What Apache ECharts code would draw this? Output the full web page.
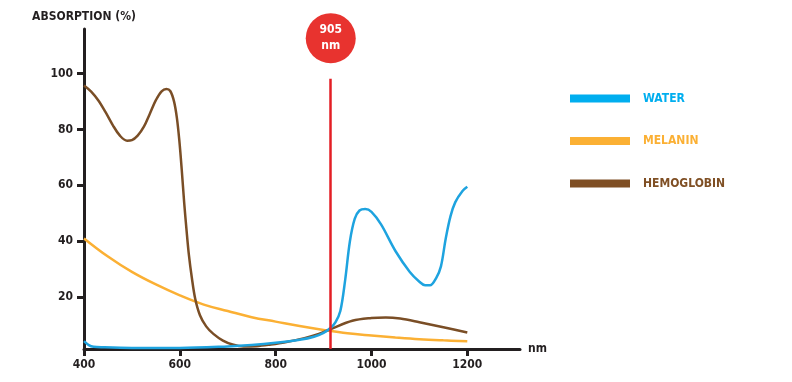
<!DOCTYPE html>
<html>
<head>
<meta charset="utf-8">
<script src="https://cdn.jsdelivr.net/npm/echarts@6/dist/echarts.min.js"></script>
<style>html,body{margin:0;padding:0;background:#fff}#c{width:792px;height:382px}</style>
</head>
<body>
<div id="c"></div>
<script>
var xTicks = [400, 600, 800, 1000, 1200];
var yTicks = [20, 40, 60, 80, 100];
var seriesNames = ['WATER', 'MELANIN', 'HEMOGLOBIN'];
var markerLabel = ['905', 'nm'];
var markerNm = 915;

var water = [
  [400,4.2],[410,2.8],[420,2.2],[440,2.0],[500,1.8],[600,1.8],[700,2.3],[750,2.8],[800,3.6],
  [850,4.7],[880,5.8],[900,7.2],[915,9],[925,11],[935,15],[945,26],[955,40],[965,48],[975,51],
  [987,51.5],[1000,50.5],[1020,46],[1050,36.5],[1080,29],[1100,25.5],[1112,24.2],[1122,24.2],
  [1135,26.8],[1145,31],[1155,41],[1165,49],[1175,54],[1190,58],[1200,59.5]
];
var melanin = [
  [400,41],[450,34.5],[500,29],[550,24.5],[600,20.6],[650,17.3],[700,15],[750,12.8],[800,11.2],
  [850,9.6],[900,8.2],[950,7],[1000,6.2],[1050,5.5],[1100,4.9],[1150,4.5],[1200,4.2]
];
var hemoglobin = [
  [400,95.8],[415,93.6],[430,90.4],[445,86.2],[460,81.6],[475,77.8],[490,76.0],[500,76.2],
  [512,77.8],[525,81],[537,85.5],[550,90.5],[562,93.7],[572,94.5],[580,93.8],[588,90],
  [594,84],[599,76],[604,65.6],[609,54],[614,44],[619,35],[625,27],[632,19.5],[642,13.5],
  [655,9.5],[670,6.8],[690,4.4],[710,3],[733,2.3],[760,2.4],[790,3],[820,3.8],[860,5.3],
  [890,6.8],[915,8.5],[960,11.5],[1000,12.5],[1030,12.7],[1060,12.3],[1100,11],[1150,9.2],[1200,7.3]
];
var colors = ['#1ea3df', '#fbb034', '#7a4e26'];
var legendColors = ['#00aeef', '#fbb034', '#7f4f24'];
var axisColor = '#231f20';
var font = 'DejaVu Sans Condensed';

var chart = echarts.init(document.getElementById('c'));
chart.setOption({
  animation: false,
  grid: {left: 84, right: 272, top: 29, bottom: 33, containLabel: false},
  legend: {
    orient: 'vertical', left: 565, top: 87.5, itemWidth: 60, itemHeight: 8, itemGap: 30.5,
    icon: 'rect', selectedMode: false,
    textStyle: {fontFamily: font, fontWeight: 'bold', fontSize: 12, padding: [0,0,0,8]},
    data: seriesNames.map(function(n, i){ return {name: n, itemStyle: {color: legendColors[i]}, textStyle: {color: legendColors[i]}}; })
  },
  xAxis: {
    type: 'value', min: 400, max: 1310,
    name: 'nm', nameLocation: 'end', nameGap: 8,
    nameTextStyle: {fontFamily: font, fontWeight: 'bold', fontSize: 12, color: axisColor, verticalAlign: 'middle', padding: [6,0,0,0]},
    axisLine: {show: true, lineStyle: {color: axisColor, width: 3}},
    axisTick: {show: true, length: 7, lineStyle: {color: axisColor, width: 3}, customValues: xTicks},
    axisLabel: {margin: 10, fontFamily: font, fontWeight: 'bold', fontSize: 12, color: axisColor, customValues: xTicks,
                formatter: function(v){ return String(v); }},
    splitLine: {show: false}
  },
  yAxis: {
    type: 'value', min: 1.4, max: 116,
    name: 'ABSORPTION (%)', nameLocation: 'end', nameGap: 6,
    nameTextStyle: {fontFamily: font, fontWeight: 'bold', fontSize: 12, color: axisColor, align: 'center'},
    axisLine: {show: true, lineStyle: {color: axisColor, width: 3}},
    axisTick: {show: true, length: 7, lineStyle: {color: axisColor, width: 3}, customValues: yTicks},
    axisLabel: {margin: 11, fontFamily: font, fontWeight: 'bold', fontSize: 12, color: axisColor, customValues: yTicks},
    splitLine: {show: false}
  },
  series: [
    {name: seriesNames[0], type: 'line', data: water, smooth: 0.35, showSymbol: false, z: 3,
     lineStyle: {color: colors[0], width: 2.5}, itemStyle: {color: colors[0]}},
    {name: seriesNames[1], type: 'line', data: melanin, smooth: 0.4, showSymbol: false, z: 2,
     lineStyle: {color: colors[1], width: 2.5}, itemStyle: {color: colors[1]}},
    {name: seriesNames[2], type: 'line', data: hemoglobin, smooth: 0.35, showSymbol: false, z: 2,
     lineStyle: {color: colors[2], width: 2.5}, itemStyle: {color: colors[2]},
     markLine: {
       silent: true, symbol: 'none', label: {show: false},
       lineStyle: {color: '#e31e24', width: 2.5, type: 'solid'},
       data: [[{coord: [markerNm, 1.4]}, {coord: [markerNm, 98.2]}]]
     },
     markPoint: {
       silent: true, symbol: 'circle', symbolSize: 50,
       itemStyle: {color: '#e8332f'},
       label: {show: true, position: 'inside', formatter: markerLabel.join('\n'), color: '#fff',
               fontFamily: font, fontWeight: 'bold', fontSize: 12, lineHeight: 16},
       data: [{coord: [markerNm, 112.7]}]
     }
    }
  ]
});
</script>
</body>
</html>
